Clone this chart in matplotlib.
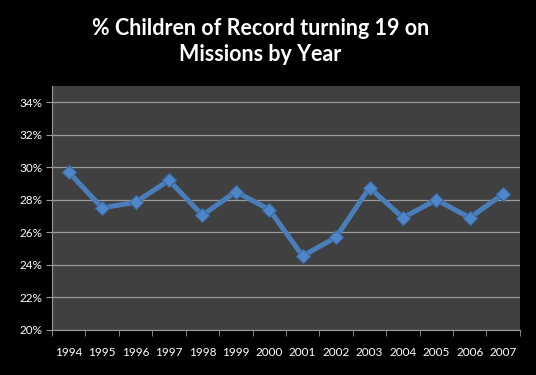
import numpy as np
import matplotlib
matplotlib.use("Agg")
import matplotlib.pyplot as plt
import matplotlib.ticker as ticker

years = ["1994", "1995", "1996", "1997", "1998", "1999", "2000",
         "2001", "2002", "2003", "2004", "2005", "2006", "2007"]
pct = [29.7, 27.5, 27.85, 29.2, 27.05, 28.5, 27.4,
       24.55, 25.7, 28.75, 26.9, 28.0, 26.9, 28.35]

plt.rcParams['font.family'] = ['Lato', 'DejaVu Sans']

fig = plt.figure(figsize=(5.36, 3.75), dpi=100, facecolor="black")
ax = fig.add_axes([0.097, 0.12, 0.873, 0.651])
ax.set_facecolor("#404040")

x = np.arange(len(years))
ax.plot(x, pct, color="#4a7ebb", lw=3.6, marker="D", ms=7.5,
        markerfacecolor="#4f86c9", markeredgecolor="#3a6aa5", mew=0.8, zorder=3)

ax.set_xlim(-0.5, len(years) - 0.5)
ax.set_ylim(20, 35)
ax.set_yticks(np.arange(20, 35, 2))
ax.yaxis.set_major_formatter(ticker.FuncFormatter(lambda v, p: "%d%%" % v))
ax.grid(axis="y", color="#9a9a9a", lw=0.9)
ax.set_axisbelow(True)

ax.set_xticks(x)
ax.set_xticklabels(years)
ax.set_xticks(np.arange(-0.5, len(years), 1), minor=True)
ax.tick_params(axis="x", which="major", length=0, pad=12, colors="white", labelsize=8.5)
ax.tick_params(axis="x", which="minor", length=4, color="#9a9a9a")
ax.tick_params(axis="y", length=4, color="#9a9a9a", labelcolor="white", labelsize=8.5, pad=3)

for s in ["top", "right"]:
    ax.spines[s].set_visible(False)
ax.spines["left"].set_color("#9a9a9a")
ax.spines["bottom"].set_color("#9a9a9a")

fig.text(0.486, 0.89, "% Children of Record turning 19 on\nMissions by Year",
         ha="center", va="center", color="white", fontsize=15.5,
         fontweight="bold", linespacing=1.3)

fig.savefig("out.png", dpi=100, facecolor="black")
